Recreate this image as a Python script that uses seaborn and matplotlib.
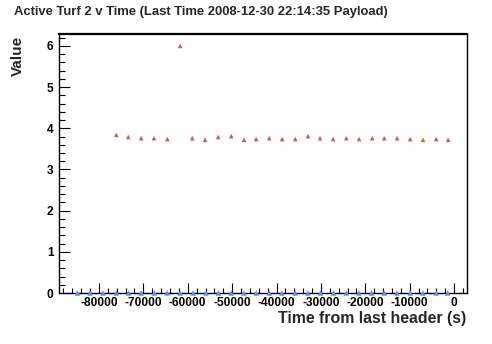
import numpy as np
import pandas as pd
import matplotlib
matplotlib.use("Agg")
import matplotlib.pyplot as plt
from matplotlib.ticker import MultipleLocator
import seaborn as sns

# Red series: Active Turf 2 value vs time (s)
value_times = [-76100, -73400, -70500, -67600, -64600, -61700, -59000, -56100,
               -53150, -50200, -47300, -44600, -41650, -38750, -35800, -32900,
               -30200, -27250, -24300, -21400, -18450, -15750, -12850, -9900,
               -7000, -4050, -1350]
values = [3.84, 3.79, 3.76, 3.76, 3.74, 6.0, 3.76, 3.72, 3.79, 3.81, 3.72,
          3.74, 3.76, 3.74, 3.74, 3.81, 3.76, 3.74, 3.76, 3.74, 3.76, 3.76,
          3.76, 3.74, 3.72, 3.74, 3.72]

# Blue series sitting at zero
zero_times = [-84850, -82000, -79100, -76100, -73350, -70500, -67550, -64650,
              -61700, -58800, -55900, -53100, -50200, -47350, -44550, -41650,
              -38800, -35800, -32950, -30100, -27200, -24300, -21450, -18600,
              -15750, -12900, -9900, -7050, -4050, -1500]
zero_values = [0.0] * len(zero_times)

title = "Active Turf 2 v Time (Last Time 2008-12-30 22:14:35 Payload)"
x_label = "Time from last header (s)"
y_label = "Value"

sns.set_style("ticks")
plt.rcParams['font.family'] = ['Liberation Sans', 'DejaVu Sans']
plt.rcParams['font.weight'] = 'bold'
plt.rcParams['axes.unicode_minus'] = False

df_val = pd.DataFrame({'time': value_times, 'value': values})
df_zero = pd.DataFrame({'time': zero_times, 'value': zero_values})

fig = plt.figure(figsize=(4.92, 3.44), dpi=100)
ax = fig.add_axes([59 / 492, 1 - 293 / 344, (467 - 59) / 492, (293 - 34) / 344])

sns.scatterplot(data=df_zero, x='time', y='value', ax=ax, marker='^', s=16,
                color='#6a8fd8', edgecolor='none', clip_on=False, zorder=10)
sns.scatterplot(data=df_val, x='time', y='value', ax=ax, marker='^', s=11,
                color='#d9534f', edgecolor='none', zorder=5)

ax.set_xlim(-89000, 2900)
ax.set_ylim(0, 6.29)
ax.xaxis.set_major_locator(MultipleLocator(10000))
ax.xaxis.set_minor_locator(MultipleLocator(2000))
ax.yaxis.set_major_locator(MultipleLocator(1))
ax.yaxis.set_minor_locator(MultipleLocator(0.2))
ax.tick_params(axis='both', which='both', direction='in', colors='black',
               labelsize=8.6, width=0.8)
ax.tick_params(axis='y', which='major', length=8, pad=4)
ax.tick_params(axis='y', which='minor', length=4)
ax.tick_params(axis='x', which='major', length=7, pad=3)
ax.tick_params(axis='x', which='minor', length=3.5)
for lab in ax.get_xticklabels() + ax.get_yticklabels():
    lab.set_fontweight('bold')
for sp in ax.spines.values():
    sp.set_visible(True)
    sp.set_color('black')
    sp.set_linewidth(1.0)
    sp.set_zorder(1)
ax.spines['top'].set_linewidth(1.6)
ax.set_axisbelow(True)
ax.set_xlabel('')
ax.set_ylabel('')

fig.text(14 / 492, 1 - 12 / 344, title, ha='left', va='center',
         fontsize=9.35, fontweight='bold')
fig.text(466 / 492, 1 - 318 / 344, x_label, ha='right', va='center',
         fontsize=11.4, fontweight='bold')
fig.text(18 / 492, 1 - 36 / 344, y_label, ha='center', va='top',
         rotation=90, fontsize=11.0, fontweight='bold')

fig.savefig('out.png', dpi=100)
